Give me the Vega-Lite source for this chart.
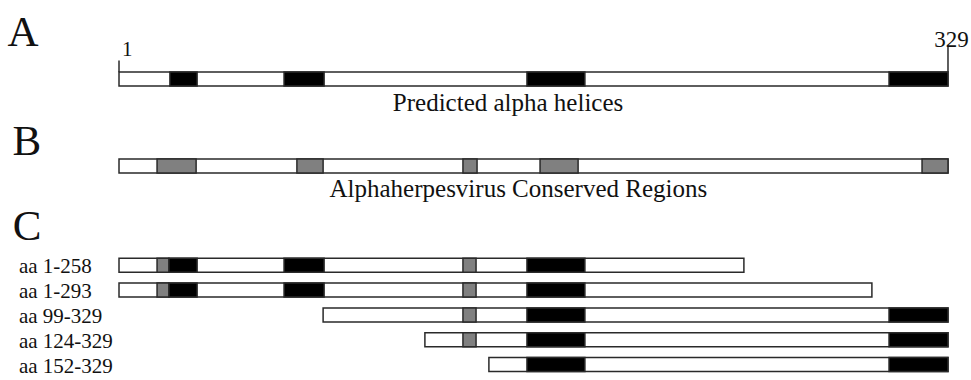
{
  "$schema": "https://vega.github.io/schema/vega-lite/v6.json",
  "width": 971,
  "height": 380,
  "padding": 0,
  "autosize": {"type": "fit", "contains": "padding"},
  "background": "white",
  "config": {"view": {"stroke": null}, "font": "Liberation Serif"},
  "datasets": {
    "segments": [
      {"track": 0, "kind": "chain", "start": 0, "end": 329},
      {"track": 3.5, "kind": "chain", "start": 0, "end": 329},
      {"track": 7.5, "kind": "chain", "start": 0, "end": 248},
      {"track": 8.5, "kind": "chain", "start": 0, "end": 298.8},
      {"track": 9.5, "kind": "chain", "start": 81.0, "end": 329},
      {"track": 10.5, "kind": "chain", "start": 121.4, "end": 329},
      {"track": 11.5, "kind": "chain", "start": 146.8, "end": 329},
      {"track": 0, "kind": "helix", "start": 20.2, "end": 31.0},
      {"track": 0, "kind": "helix", "start": 65.5, "end": 81.4},
      {"track": 0, "kind": "helix", "start": 161.9, "end": 184.9},
      {"track": 0, "kind": "helix", "start": 305.6, "end": 329},
      {"track": 3.5, "kind": "conserved", "start": 15.1, "end": 30.6},
      {"track": 3.5, "kind": "conserved", "start": 70.6, "end": 81.0},
      {"track": 3.5, "kind": "conserved", "start": 136.5, "end": 142.1},
      {"track": 3.5, "kind": "conserved", "start": 167.1, "end": 182.2},
      {"track": 3.5, "kind": "conserved", "start": 318.7, "end": 329},
      {"track": 7.5, "kind": "conserved", "start": 15.1, "end": 19.8},
      {"track": 7.5, "kind": "helix", "start": 19.8, "end": 31.0},
      {"track": 7.5, "kind": "helix", "start": 65.5, "end": 81.4},
      {"track": 7.5, "kind": "conserved", "start": 136.5, "end": 141.7},
      {"track": 7.5, "kind": "helix", "start": 161.9, "end": 184.9},
      {"track": 8.5, "kind": "conserved", "start": 15.1, "end": 19.8},
      {"track": 8.5, "kind": "helix", "start": 19.8, "end": 31.0},
      {"track": 8.5, "kind": "helix", "start": 65.5, "end": 81.4},
      {"track": 8.5, "kind": "conserved", "start": 136.5, "end": 141.7},
      {"track": 8.5, "kind": "helix", "start": 161.9, "end": 184.9},
      {"track": 9.5, "kind": "conserved", "start": 136.5, "end": 141.7},
      {"track": 9.5, "kind": "helix", "start": 161.9, "end": 184.9},
      {"track": 9.5, "kind": "helix", "start": 305.6, "end": 329},
      {"track": 10.5, "kind": "conserved", "start": 136.5, "end": 141.7},
      {"track": 10.5, "kind": "helix", "start": 161.9, "end": 184.9},
      {"track": 10.5, "kind": "helix", "start": 305.6, "end": 329},
      {"track": 11.5, "kind": "helix", "start": 161.9, "end": 184.9},
      {"track": 11.5, "kind": "helix", "start": 305.6, "end": 329}
    ],
    "ticks": [
      {"pos": 0, "top": -0.745, "bottom": -0.27},
      {"pos": 329, "top": -1.29, "bottom": -0.27}
    ],
    "letters": [
      {"text": "A", "x": -44.3, "t": -1.333},
      {"text": "B", "x": -42.3, "t": 3.06},
      {"text": "C", "x": -42.2, "t": 6.5}
    ],
    "captions": [
      {"text": "Predicted alpha helices", "x": 154.4, "t": 1.3},
      {"text": "Alphaherpesvirus Conserved Regions", "x": 158.5, "t": 4.745}
    ],
    "rowlabels": [
      {"text": "aa 1-258", "t": 7.5},
      {"text": "aa 1-293", "t": 8.5},
      {"text": "aa 99-329", "t": 9.5},
      {"text": "aa 124-329", "t": 10.5},
      {"text": "aa 152-329", "t": 11.5}
    ]
  },
  "layer": [
    {
      "data": {"name": "segments"},
      "mark": {"type": "bar", "orient": "horizontal", "size": 14, "stroke": "#2a2a2a", "strokeWidth": 1.5},
      "encoding": {
        "x": {"field": "start", "type": "quantitative", "scale": {"domain": [-47.23, 338.13], "nice": false, "zero": false}, "axis": null},
        "x2": {"field": "end"},
        "y": {"field": "track", "type": "quantitative", "scale": {"domain": [11.92, -2.98], "nice": false, "zero": false}, "axis": null},
        "color": {"field": "kind", "type": "nominal", "scale": {"domain": ["chain", "helix", "conserved"], "range": ["#ffffff", "#000000", "#808080"]}, "legend": null}
      }
    },
    {
      "data": {"name": "ticks"},
      "mark": {"type": "rule", "stroke": "#2a2a2a", "strokeWidth": 1.5},
      "encoding": {
        "x": {"field": "pos", "type": "quantitative"},
        "y": {"field": "top", "type": "quantitative"},
        "y2": {"field": "bottom"}
      }
    },
    {
      "data": {"values": [{"text": "1", "x": 1.2, "t": -0.94}]},
      "mark": {"type": "text", "align": "left", "baseline": "alphabetic", "fontSize": 21, "font": "Liberation Serif", "color": "#111"},
      "encoding": {
        "x": {"field": "x", "type": "quantitative"},
        "y": {"field": "t", "type": "quantitative"},
        "text": {"field": "text"}
      }
    },
    {
      "data": {"values": [{"text": "329", "x": 330.4, "t": -1.29}]},
      "mark": {"type": "text", "align": "center", "baseline": "alphabetic", "fontSize": 23, "font": "Liberation Serif", "color": "#111"},
      "encoding": {
        "x": {"field": "x", "type": "quantitative"},
        "y": {"field": "t", "type": "quantitative"},
        "text": {"field": "text"}
      }
    },
    {
      "data": {"name": "letters"},
      "mark": {"type": "text", "align": "left", "baseline": "alphabetic", "fontSize": 43, "font": "Liberation Serif", "color": "#111"},
      "encoding": {
        "x": {"field": "x", "type": "quantitative"},
        "y": {"field": "t", "type": "quantitative"},
        "text": {"field": "text"}
      }
    },
    {
      "data": {"name": "captions"},
      "mark": {"type": "text", "align": "center", "baseline": "alphabetic", "fontSize": 25, "font": "Liberation Serif", "color": "#111"},
      "encoding": {
        "x": {"field": "x", "type": "quantitative"},
        "y": {"field": "t", "type": "quantitative"},
        "text": {"field": "text"}
      }
    },
    {
      "data": {"name": "rowlabels"},
      "mark": {"type": "text", "align": "left", "baseline": "alphabetic", "dy": 8, "fontSize": 21, "font": "Liberation Serif", "color": "#111"},
      "encoding": {
        "x": {"datum": -39.7, "type": "quantitative"},
        "y": {"field": "t", "type": "quantitative"},
        "text": {"field": "text"}
      }
    }
  ]
}
